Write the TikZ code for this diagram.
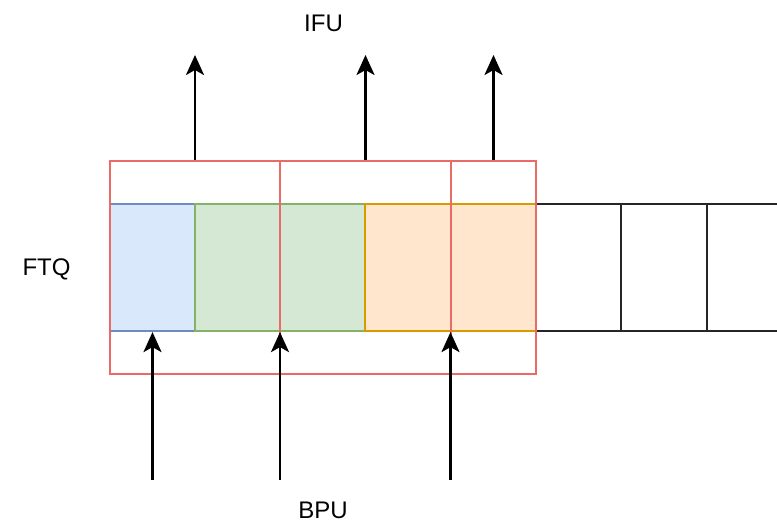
\documentclass[tikz,border=0pt]{standalone}
\usepackage{fontspec}
\setmainfont{Liberation Sans}
\usetikzlibrary{arrows.meta}
\definecolor{bluefill}{HTML}{DAE8FC}
\definecolor{bluedraw}{HTML}{6C8EBF}
\definecolor{greenfill}{HTML}{D5E8D4}
\definecolor{greendraw}{HTML}{82B366}
\definecolor{orangefill}{HTML}{FFE6CC}
\definecolor{orangedraw}{HTML}{D79B00}
\definecolor{reddraw}{HTML}{EA6B66}
\tikzset{
  cell/.style={rectangle, inner sep=0pt, minimum height=127pt, line width=2.2pt},
  bluecell/.style={cell, fill=bluefill, draw=bluedraw},
  greencell/.style={cell, fill=greenfill, draw=greendraw},
  orangecell/.style={cell, fill=orangefill, draw=orangedraw},
  emptycell/.style={cell, draw=black!85},
  redbox/.style={rectangle, inner sep=0pt, minimum height=213pt, draw=reddraw, line width=2pt},
  arr/.style={line width=2.6pt, -{Stealth[length=20pt, width=18pt, inset=5pt]}},
  lbl/.style={font=\fontsize{24}{29}\selectfont, anchor=base, inner sep=0pt}
}
\begin{document}
\begin{tikzpicture}[x=1pt, y=-1pt]
\useasboundingbox (0,0) rectangle (777,522);
% FTQ entries
\node[bluecell, minimum width=85pt] (b1) at (152.5,267.5) {};
\node[greencell, minimum width=170pt] (g1) at (280,267.5) {};
\node[orangecell, minimum width=171pt] (o1) at (450.5,267.5) {};
\node[emptycell, minimum width=85pt] (e1) at (578.5,267.5) {};
\node[emptycell, minimum width=86pt] (e2) at (664,267.5) {};
\node[emptycell, minimum width=85pt] (e3) at (749.5,267.5) {};
% red fetch blocks
\node[redbox, minimum width=170pt] (r1) at (195,267.5) {};
\node[redbox, minimum width=171pt] (r2) at (365.5,267.5) {};
\node[redbox, minimum width=85pt] (r3) at (493.5,267.5) {};
% labels
\node[lbl] (ifu) at (323.5,31) {IFU};
\node[lbl] (ftq) at (46.5,275) {FTQ};
\node[lbl] (bpu) at (323,518) {BPU};
% arrow ends
\coordinate (u1) at (195,55);
\coordinate (u2) at (365.5,55);
\coordinate (u3) at (493.5,55);
\coordinate (d1) at (152.5,480);
\coordinate (d2) at (280,480);
\coordinate (d3) at (450.5,480);
\draw[arr] (r1.north) -- (u1);
\draw[arr] (r2.north) -- (u2);
\draw[arr] (r3.north) -- (u3);
\draw[arr] (d1) -- (b1.south);
\draw[arr] (d2) -- (g1.south);
\draw[arr] (d3) -- (o1.south);
\end{tikzpicture}
\end{document}
